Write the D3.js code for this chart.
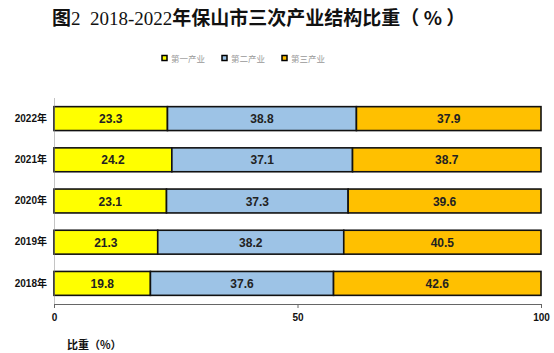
<!DOCTYPE html>
<html lang="zh">
<head>
    <meta charset="UTF-8">
    <title>保山市三次产业结构比重</title>
    <style>
        body { margin: 0; background: #fff; }
        svg { display: block; }
    </style>
</head>
<body>
    <svg id="chart" width="554" height="353"></svg>

<script src="https://cdn.jsdelivr.net/npm/d3@7/dist/d3.min.js"></script>
<script>
    // data
    let years = ["2022年", "2021年", "2020年", "2019年", "2018年"]
    let seriesNames = ["第一产业", "第二产业", "第三产业"]
    let primary = [23.3, 24.2, 23.1, 21.3, 19.8]
    let secondary = [38.8, 37.1, 37.3, 38.2, 37.6]
    let tertiary = [37.9, 38.7, 39.6, 40.5, 42.6]
    let xTicks = [0, 50, 100]
    let colors = ["#ffff00", "#9dc3e6", "#ffc000"]

    let svg = d3.select("#chart")
    let margin = { left: 54, right: 13, top: 98, bottom: 49 }
    let width = 554 - margin.left - margin.right
    let height = 353 - margin.top - margin.bottom

    let rows = years.map((y, i) => ({ year: y, "第一产业": primary[i], "第二产业": secondary[i], "第三产业": tertiary[i] }))
    let stacked = d3.stack().keys(seriesNames)(rows)

    let x = d3.scaleLinear().domain([0, 100]).range([0, width])
    let y = d3.scaleBand().domain(years).range([0, height]).paddingInner(0.42).paddingOuter(0.21)

    // title
    let title = svg.append("text")
        .attr("x", 52).attr("y", 25)
        .style("font-family", "'Liberation Serif', 'Noto Sans CJK SC', serif")
        .style("font-size", "19px")
        .attr("fill", "#111")
    title.append("tspan").style("font-weight", "bold").style("font-family", "'Noto Sans CJK SC', sans-serif").text("图")
    title.append("tspan").text("2  2018-2022").attr("xml:space", "preserve")
    title.append("tspan").style("font-weight", "bold").style("font-family", "'Noto Sans CJK SC', sans-serif")
        .text("年保山市三次产业结构比重（ % ）")

    // legend
    let legendX = [162, 222, 282]
    let legend = svg.append("g")
    seriesNames.forEach((name, i) => {
        legend.append("rect")
            .attr("x", legendX[i]).attr("y", 55.5)
            .attr("width", 5).attr("height", 5)
            .attr("fill", colors[i])
            .attr("stroke", "#000").attr("stroke-width", 1.5)
        legend.append("text")
            .attr("x", legendX[i] + 9).attr("y", 62)
            .style("font-family", "'Noto Sans CJK SC', sans-serif")
            .style("font-size", "8.5px")
            .attr("fill", "#999")
            .text(name)
    })

    let g = svg.append("g").attr("transform", `translate(${margin.left},${margin.top})`)

    // bars
    let layer = g.selectAll(".layer").data(stacked).enter()
        .append("g").attr("fill", (d, i) => colors[i])

    layer.selectAll("rect").data(d => d).enter()
        .append("rect")
        .attr("x", d => x(d[0]))
        .attr("y", d => y(d.data.year))
        .attr("width", d => x(d[1]) - x(d[0]))
        .attr("height", y.bandwidth())
        .attr("stroke", "#111")
        .attr("stroke-width", 1.6)

    layer.selectAll("text").data(d => d).enter()
        .append("text")
        .attr("x", d => x((d[0] + d[1]) / 2))
        .attr("y", d => y(d.data.year) + y.bandwidth() / 2 + 4.5)
        .attr("text-anchor", "middle")
        .attr("fill", "#222")
        .style("font-family", "'Liberation Sans', Arial, sans-serif")
        .style("font-weight", "bold")
        .style("font-size", "12px")
        .text(d => (d[1] - d[0]).toFixed(1))

    // axes
    let xAxis = g.append("g").attr("transform", `translate(0,${height})`)
        .call(d3.axisBottom(x).tickValues(xTicks).tickSize(4).tickPadding(6))
    xAxis.select(".domain").attr("stroke", "#666")
    xAxis.selectAll(".tick line").attr("stroke", "#666")
    xAxis.selectAll("text")
        .style("font-family", "'Liberation Sans', Arial, sans-serif")
        .style("font-weight", "bold")
        .style("font-size", "10px")
        .attr("fill", "#111")

    let yAxis = g.append("g")
        .call(d3.axisLeft(y).tickSize(0).tickPadding(7))
    yAxis.select(".domain").attr("stroke", "#888").attr("stroke-dasharray", "1,1")
    yAxis.selectAll("text")
        .style("font-family", "'Liberation Sans', 'Noto Sans CJK SC', sans-serif")
        .style("font-weight", "bold")
        .style("font-size", "10px")
        .attr("fill", "#111")

    svg.append("text")
        .attr("x", 67).attr("y", 349)
        .style("font-family", "'Noto Sans CJK SC', sans-serif")
        .style("font-weight", "bold")
        .style("font-size", "11px")
        .attr("fill", "#111")
        .text("比重（%）")
</script>
</body>
</html>
